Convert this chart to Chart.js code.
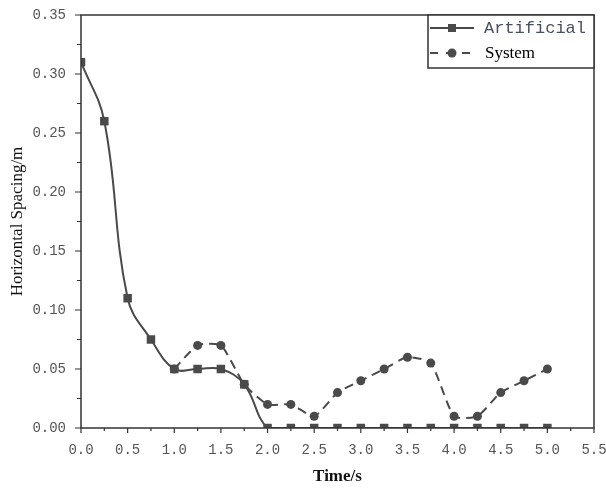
<!DOCTYPE html>
<html>
<head>
<meta charset="utf-8">
<script src="https://cdn.jsdelivr.net/npm/chart.js@4/dist/chart.umd.min.js"></script>
<style>
  html, body { margin: 0; padding: 0; background: #fff; }
  canvas { display: block; }
</style>
</head>
<body>
<canvas id="spacingChart" width="606" height="491"></canvas>
<script>
// data
const times = [0, 0.25, 0.5, 0.75, 1.0, 1.25, 1.5, 1.75, 2.0, 2.25, 2.5, 2.75, 3.0, 3.25, 3.5, 3.75, 4.0, 4.25, 4.5, 4.75, 5.0];
const artificial = [0.31, 0.26, 0.11, 0.075, 0.05, 0.05, 0.05, 0.037, 0, 0, 0, 0, 0, 0, 0, 0, 0, 0, 0, 0, 0];
const system = [null, null, null, null, 0.05, 0.07, 0.07, 0.037, 0.02, 0.02, 0.01, 0.03, 0.04, 0.05, 0.06, 0.055, 0.01, 0.01, 0.03, 0.04, 0.05];
const xTickValues = [0, 0.5, 1.0, 1.5, 2.0, 2.5, 3.0, 3.5, 4.0, 4.5, 5.0, 5.5];
const yTickValues = [0, 0.05, 0.10, 0.15, 0.20, 0.25, 0.30, 0.35];
const seriesNames = ['Artificial', 'System'];

const ink = '#4a4a4a';
const frameColor = '#333';

function toPoints(vals) {
  return times.map((t, i) => ({ x: t, y: vals[i] }));
}

// frame, outside ticks (major + minor) and the boxed legend
const framePlugin = {
  id: 'frame',
  afterDraw(chart) {
    const ctx = chart.ctx;
    const a = chart.chartArea;
    const xs = chart.scales.x, ys = chart.scales.y;
    ctx.save();
    ctx.strokeStyle = frameColor;
    ctx.lineWidth = 1.5;
    ctx.strokeRect(a.left, a.top, a.right - a.left, a.bottom - a.top);

    ctx.lineWidth = 1.2;
    ctx.beginPath();
    for (let i = 0; i < xTickValues.length; i++) {
      const px = xs.getPixelForValue(xTickValues[i]);
      ctx.moveTo(px, a.bottom); ctx.lineTo(px, a.bottom + 5);
      if (i < xTickValues.length - 1) {
        const mx = xs.getPixelForValue(xTickValues[i] + 0.25);
        ctx.moveTo(mx, a.bottom); ctx.lineTo(mx, a.bottom + 3);
      }
    }
    for (let i = 0; i < yTickValues.length; i++) {
      const py = ys.getPixelForValue(yTickValues[i]);
      ctx.moveTo(a.left, py); ctx.lineTo(a.left - 6, py);
      if (i < yTickValues.length - 1) {
        const my = ys.getPixelForValue(yTickValues[i] + 0.025);
        ctx.moveTo(a.left, my); ctx.lineTo(a.left - 4, my);
      }
    }
    ctx.stroke();

    // legend box
    const bx = 428, by = a.top, bw = a.right - 428, bh = 53;
    ctx.fillStyle = '#fff';
    ctx.fillRect(bx, by, bw, bh);
    ctx.lineWidth = 1.5;
    ctx.strokeRect(bx, by, bw, bh);

    const r1 = by + 13, r2 = by + 38;
    ctx.strokeStyle = ink;
    ctx.fillStyle = ink;
    ctx.lineWidth = 2;
    ctx.beginPath();
    ctx.moveTo(430, r1); ctx.lineTo(474, r1);
    ctx.stroke();
    ctx.fillRect(452 - 4, r1 - 4, 8, 8);

    ctx.setLineDash([8, 8]);
    ctx.beginPath();
    ctx.moveTo(430, r2); ctx.lineTo(474, r2);
    ctx.stroke();
    ctx.setLineDash([]);
    ctx.beginPath();
    ctx.arc(452, r2, 4.5, 0, Math.PI * 2);
    ctx.fill();

    ctx.textBaseline = 'middle';
    ctx.textAlign = 'left';
    ctx.font = '17px "Liberation Mono"';
    ctx.fillStyle = '#4a4f5e';
    ctx.fillText(seriesNames[0], 484, r1);
    ctx.font = '17px "Liberation Serif"';
    ctx.fillStyle = '#000';
    ctx.fillText(seriesNames[1], 485, r2 + 1);
    ctx.restore();
  }
};

const ctx = document.getElementById('spacingChart').getContext('2d');
new Chart(ctx, {
  type: 'line',
  data: {
    datasets: [{
      label: seriesNames[0],
      data: toPoints(artificial),
      borderColor: ink,
      backgroundColor: ink,
      borderWidth: 2,
      pointStyle: 'rect',
      pointRadius: 6,
      pointBorderWidth: 0,
      tension: 0.4,
      clip: 0
    }, {
      label: seriesNames[1],
      data: toPoints(system),
      borderColor: ink,
      backgroundColor: ink,
      borderWidth: 2,
      borderDash: [9, 6],
      pointStyle: 'circle',
      pointRadius: 4.5,
      pointBorderWidth: 0,
      tension: 0.2,
      clip: 0
    }]
  },
  options: {
    responsive: false,
    animation: false,
    devicePixelRatio: 1,
    layout: { padding: { top: 15, right: 12, left: 0, bottom: 0 } },
    plugins: {
      legend: { display: false },
      tooltip: { enabled: false }
    },
    scales: {
      x: {
        type: 'linear',
        min: 0,
        max: 5.5,
        afterFit: s => { s.height = 63; s.paddingLeft = 0; s.paddingRight = 0; },
        afterBuildTicks: s => { s.ticks = xTickValues.map(v => ({ value: v })); },
        grid: { display: false, drawTicks: false },
        border: { display: false },
        ticks: {
          padding: 14,
          color: '#555',
          font: { family: 'Liberation Mono', size: 14 },
          maxRotation: 0,
          callback: v => v.toFixed(1)
        },
        title: {
          display: true,
          text: 'Time/s',
          color: '#111',
          font: { family: 'Liberation Serif', size: 17, weight: 'bold' },
          padding: { top: 4, bottom: 4 }
        }
      },
      y: {
        min: 0,
        max: 0.35,
        afterFit: s => { s.width = 81; s.paddingTop = 0; s.paddingBottom = 0; },
        afterBuildTicks: s => { s.ticks = yTickValues.map(v => ({ value: v })); },
        grid: { display: false, drawTicks: false },
        border: { display: false },
        ticks: {
          padding: 15,
          color: '#555',
          font: { family: 'Liberation Mono', size: 14 },
          callback: v => v.toFixed(2)
        },
        title: {
          display: true,
          text: 'Horizontal Spacing/m',
          color: '#111',
          font: { family: 'Liberation Serif', size: 17 },
          padding: { top: 7, bottom: 0 }
        }
      }
    }
  },
  plugins: [framePlugin]
});
</script>
</body>
</html>
